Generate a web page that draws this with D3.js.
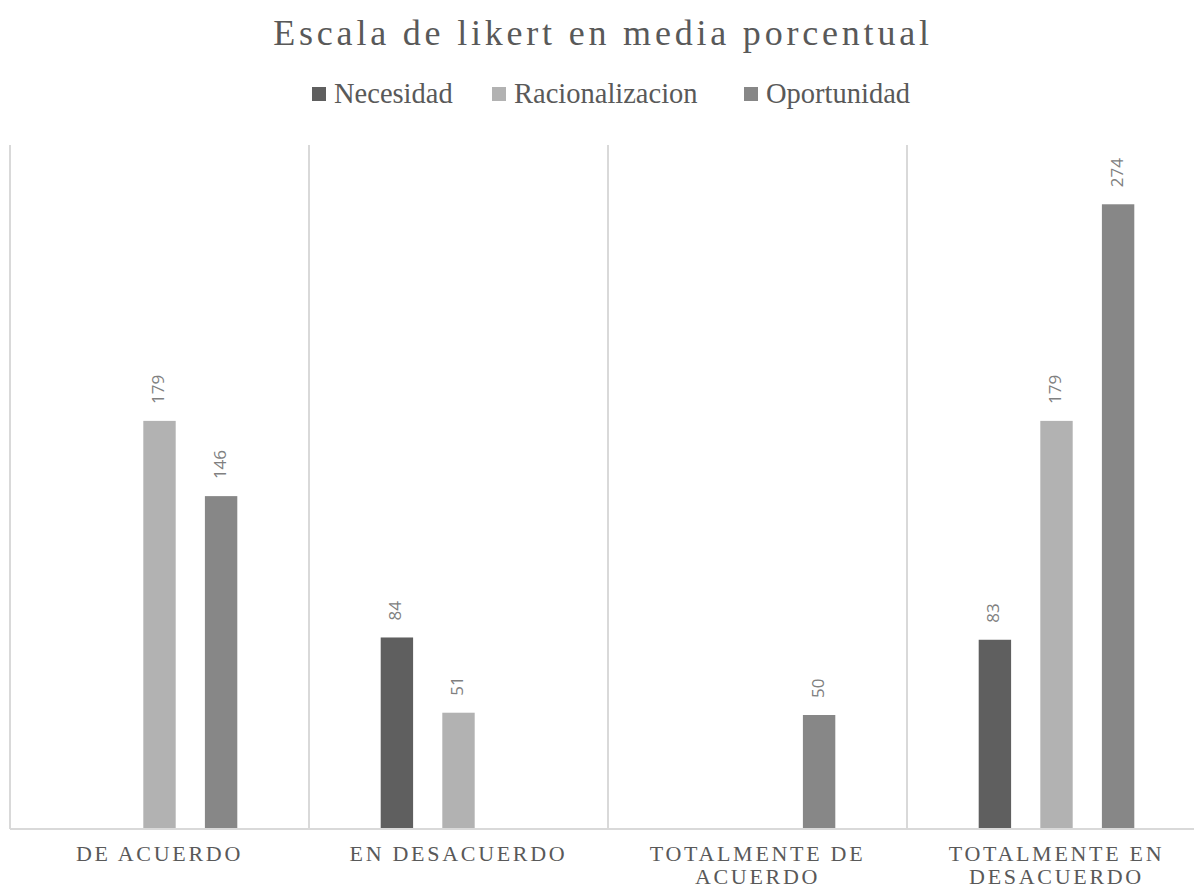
<!DOCTYPE html>
<html>
<head>
<meta charset="utf-8">
<script src="https://cdn.jsdelivr.net/npm/d3@7"></script>
<style>
  html, body { margin: 0; padding: 0; background: #ffffff; }
  svg { display: block; }
</style>
</head>
<body>
<svg id="chart" width="1194" height="888"></svg>
<script>
// Likert categories along the x axis
const categories = ["DE ACUERDO", "EN DESACUERDO", "TOTALMENTE DE ACUERDO", "TOTALMENTE EN DESACUERDO"];
// Line breaks used for the category labels
const categoryLines = [["DE ACUERDO"], ["EN DESACUERDO"], ["TOTALMENTE DE", "ACUERDO"], ["TOTALMENTE EN", "DESACUERDO"]];

// Series names and values (null = no bar)
const seriesNames = ["Necesidad", "Racionalizacion", "Oportunidad"];
const necesidad = [null, 84, null, 83];
const racionalizacion = [179, 51, null, 179];
const oportunidad = [146, null, 50, 274];
const seriesColors = ["#5f5f5f", "#b2b2b2", "#878787"];

// y axis extent
const yMax = 300;

const svg = d3.select("#chart");
const plot = { left: 10, right: 1206, top: 145, bottom: 829 };

const seriesValues = [necesidad, racionalizacion, oportunidad];
const rows = categories.map((c, i) => ({
  category: c,
  values: seriesNames.map((s, j) => ({ series: s, value: seriesValues[j][i], color: seriesColors[j] }))
}));

const x0 = d3.scaleBand().domain(categories).range([plot.left, plot.right]).paddingInner(0).paddingOuter(0);
const x1 = d3.scaleBand().domain(seriesNames).range([0, x0.bandwidth()]).paddingInner(0.474).paddingOuter(1.164);
const y = d3.scaleLinear().domain([0, yMax]).range([plot.bottom, plot.top]);

const serif = "'Liberation Serif', 'Times New Roman', serif";

// Title
svg.append("text")
  .attr("x", 603).attr("y", 45)
  .attr("text-anchor", "middle")
  .attr("font-family", serif)
  .attr("font-size", 36)
  .attr("letter-spacing", 3.8)
  .attr("fill", "#595959")
  .text("Escala de likert en media porcentual");

// Legend
const legendX = [312, 492, 744];
const legend = svg.append("g").attr("class", "legend");
seriesNames.forEach((s, i) => {
  const g = legend.append("g").attr("transform", `translate(${legendX[i]},0)`);
  g.append("rect").attr("x", 0).attr("y", 87).attr("width", 14).attr("height", 14).attr("fill", seriesColors[i]);
  g.append("text")
    .attr("x", 22).attr("y", 103)
    .attr("font-family", serif)
    .attr("font-size", 28.5)
    .attr("fill", "#595959")
    .text(s);
});

// Vertical category separators
const bounds = categories.map(c => x0(c)).concat([x0(categories[categories.length - 1]) + x0.bandwidth()]);
svg.append("g").selectAll("line")
  .data(bounds).join("line")
  .attr("x1", d => d).attr("x2", d => d)
  .attr("y1", y(yMax)).attr("y2", y(0))
  .attr("stroke", "#d9d9d9").attr("stroke-width", 2);

// Bars
const groups = svg.append("g").selectAll("g")
  .data(rows).join("g")
  .attr("transform", d => `translate(${x0(d.category)},0)`);

groups.selectAll("rect")
  .data(d => d.values.filter(v => v.value != null))
  .join("rect")
  .attr("x", d => x1(d.series))
  .attr("width", x1.bandwidth())
  .attr("y", d => y(d.value))
  .attr("height", d => y(0) - y(d.value))
  .attr("fill", d => d.color);

// Value labels, rotated
groups.selectAll("text.val")
  .data(d => d.values.filter(v => v.value != null))
  .join("text")
  .attr("class", "val")
  .attr("transform", d => `translate(${x1(d.series) + x1.bandwidth() / 2},${y(d.value) - 17}) rotate(-90)`)
  .attr("text-anchor", "start")
  .attr("dominant-baseline", "middle")
  .attr("font-family", "'Open Sans', 'Liberation Sans', sans-serif")
  .attr("font-size", 17)
  .attr("fill", "#808080")
  .text(d => d.value);

// Baseline axis
svg.append("line")
  .attr("x1", plot.left).attr("x2", plot.right)
  .attr("y1", y(0)).attr("y2", y(0))
  .attr("stroke", "#d9d9d9").attr("stroke-width", 2);

// Category labels
const catLabels = svg.append("g").selectAll("text")
  .data(categories.map((c, i) => ({ c, lines: categoryLines[i] })))
  .join("text")
  .attr("x", d => x0(d.c) + x0.bandwidth() / 2)
  .attr("y", 861)
  .attr("text-anchor", "middle")
  .attr("font-family", serif)
  .attr("font-size", 22)
  .attr("letter-spacing", 2.7)
  .attr("fill", "#595959");
catLabels.selectAll("tspan")
  .data(d => d.lines.map(l => ({ l, x: x0(d.c) + x0.bandwidth() / 2 })))
  .join("tspan")
  .attr("x", d => d.x)
  .attr("dy", (d, i) => i === 0 ? 0 : 23)
  .text(d => d.l);
</script>
</body>
</html>
